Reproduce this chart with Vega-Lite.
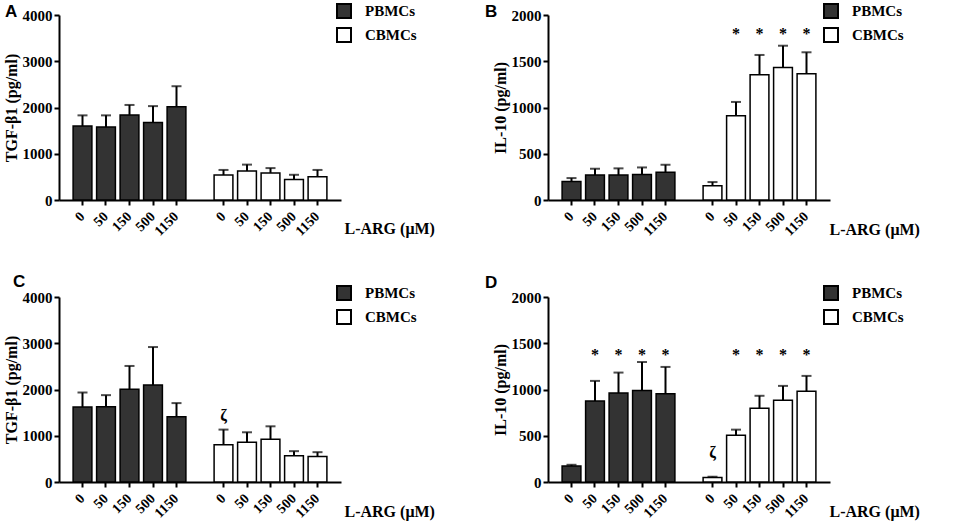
{
  "$schema": "https://vega.github.io/schema/vega-lite/v6.json",
  "padding": {"left": 3, "top": 3, "right": 0, "bottom": 0},
  "background": "white",
  "datasets": {
    "A": [
      {"cells": "PBMCs", "key": "P0", "mean": 1600, "hi": 1830, "mark": ""},
      {"cells": "PBMCs", "key": "P50", "mean": 1580, "hi": 1830, "mark": ""},
      {"cells": "PBMCs", "key": "P150", "mean": 1840, "hi": 2055, "mark": ""},
      {"cells": "PBMCs", "key": "P500", "mean": 1675, "hi": 2030, "mark": ""},
      {"cells": "PBMCs", "key": "P1150", "mean": 2015, "hi": 2460, "mark": ""},
      {"cells": "CBMCs", "key": "C0", "mean": 540, "hi": 650, "mark": ""},
      {"cells": "CBMCs", "key": "C50", "mean": 625, "hi": 765, "mark": ""},
      {"cells": "CBMCs", "key": "C150", "mean": 585, "hi": 690, "mark": ""},
      {"cells": "CBMCs", "key": "C500", "mean": 445, "hi": 545, "mark": ""},
      {"cells": "CBMCs", "key": "C1150", "mean": 505, "hi": 650, "mark": ""}
    ],
    "B": [
      {"cells": "PBMCs", "key": "P0", "mean": 200, "hi": 237, "mark": ""},
      {"cells": "PBMCs", "key": "P50", "mean": 270, "hi": 338, "mark": ""},
      {"cells": "PBMCs", "key": "P150", "mean": 270, "hi": 342, "mark": ""},
      {"cells": "PBMCs", "key": "P500", "mean": 277, "hi": 352, "mark": ""},
      {"cells": "PBMCs", "key": "P1150", "mean": 299, "hi": 381, "mark": ""},
      {"cells": "CBMCs", "key": "C0", "mean": 155, "hi": 194, "mark": ""},
      {"cells": "CBMCs", "key": "C50", "mean": 910, "hi": 1060, "mark": "*"},
      {"cells": "CBMCs", "key": "C150", "mean": 1355, "hi": 1568, "mark": "*"},
      {"cells": "CBMCs", "key": "C500", "mean": 1432, "hi": 1668, "mark": "*"},
      {"cells": "CBMCs", "key": "C1150", "mean": 1365, "hi": 1597, "mark": "*"}
    ],
    "C": [
      {"cells": "PBMCs", "key": "P0", "mean": 1620, "hi": 1935, "mark": ""},
      {"cells": "PBMCs", "key": "P50", "mean": 1627, "hi": 1878, "mark": ""},
      {"cells": "PBMCs", "key": "P150", "mean": 2007, "hi": 2509, "mark": ""},
      {"cells": "PBMCs", "key": "P500", "mean": 2100, "hi": 2918, "mark": ""},
      {"cells": "PBMCs", "key": "P1150", "mean": 1412, "hi": 1706, "mark": ""},
      {"cells": "CBMCs", "key": "C0", "mean": 803, "hi": 1133, "mark": "ζ"},
      {"cells": "CBMCs", "key": "C50", "mean": 860, "hi": 1075, "mark": ""},
      {"cells": "CBMCs", "key": "C150", "mean": 925, "hi": 1204, "mark": ""},
      {"cells": "CBMCs", "key": "C500", "mean": 566, "hi": 667, "mark": ""},
      {"cells": "CBMCs", "key": "C1150", "mean": 552, "hi": 645, "mark": ""}
    ],
    "D": [
      {"cells": "PBMCs", "key": "P0", "mean": 172, "hi": 186, "mark": ""},
      {"cells": "PBMCs", "key": "P50", "mean": 875, "hi": 1093, "mark": "*"},
      {"cells": "PBMCs", "key": "P150", "mean": 961, "hi": 1183, "mark": "*"},
      {"cells": "PBMCs", "key": "P500", "mean": 989, "hi": 1297, "mark": "*"},
      {"cells": "PBMCs", "key": "P1150", "mean": 953, "hi": 1244, "mark": "*"},
      {"cells": "CBMCs", "key": "C0", "mean": 50, "hi": 57, "mark": "ζ"},
      {"cells": "CBMCs", "key": "C50", "mean": 505, "hi": 566, "mark": "*"},
      {"cells": "CBMCs", "key": "C150", "mean": 796, "hi": 932, "mark": "*"},
      {"cells": "CBMCs", "key": "C500", "mean": 885, "hi": 1039, "mark": "*"},
      {"cells": "CBMCs", "key": "C1150", "mean": 982, "hi": 1147, "mark": "*"}
    ]
  },
  "concat": [
    {
      "width": 282, "height": 185,
      "data": {"name": "A"},
      "title": {"text": "A", "anchor": "start", "frame": "group", "dx": -54, "offset": -31, "baseline": "alphabetic", "font": "Liberation Sans", "fontSize": 17, "fontWeight": "bold", "color": "black"},
      "encoding": {
        "x": {"field": "key", "type": "nominal", "sort": null,
          "scale": {"domain": ["P0","P50","P150","P500","P1150","gap","C0","C50","C150","C500","C1150"], "paddingInner": 0.2, "paddingOuter": 0.6},
          "axis": {"title": "L-ARG (μM)", "titleX": 285, "titleY": 33, "titleAlign": "left", "titleBaseline": "alphabetic", "titleAngle": 0,
            "labelExpr": "datum.value == 'gap' ? '' : slice(datum.value, 1)", "labelAngle": -45, "labelAlign": "right", "labelBaseline": "middle",
            "tickOpacity": {"condition": {"test": "datum.value == 'gap'", "value": 0}, "value": 1}}}
      },
      "layer": [
        {"mark": {"type": "bar", "stroke": "black", "strokeWidth": 1.5},
         "encoding": {
           "y": {"field": "mean", "type": "quantitative", "scale": {"domain": [0, 4000], "nice": false}, "axis": {"title": "TGF-β1 (pg/ml)", "values": [0, 1000, 2000, 3000, 4000], "format": "d"}},
           "fill": {"field": "cells", "type": "nominal", "scale": {"domain": ["PBMCs", "CBMCs"], "range": ["#333333", "#ffffff"]},
             "legend": {"orient": "none", "legendX": 277, "legendY": -12}}
         }},
        {"mark": {"type": "rule", "color": "black", "strokeWidth": 2},
         "encoding": {"y": {"field": "mean", "type": "quantitative"}, "y2": {"field": "hi"}}},
        {"mark": {"type": "tick", "color": "black", "size": 10, "thickness": 2},
         "encoding": {"y": {"field": "hi", "type": "quantitative"}}}
      ]
    },
    {
      "width": 282, "height": 185,
      "data": {"name": "B"},
      "title": {"text": "B", "anchor": "start", "frame": "group", "dx": -63, "offset": -31, "baseline": "alphabetic", "font": "Liberation Sans", "fontSize": 17, "fontWeight": "bold", "color": "black"},
      "encoding": {
        "x": {"field": "key", "type": "nominal", "sort": null,
          "scale": {"domain": ["P0","P50","P150","P500","P1150","gap","C0","C50","C150","C500","C1150"], "paddingInner": 0.2, "paddingOuter": 0.6},
          "axis": {"title": "L-ARG (μM)", "titleX": 281, "titleY": 34, "titleAlign": "left", "titleBaseline": "alphabetic", "titleAngle": 0,
            "labelExpr": "datum.value == 'gap' ? '' : slice(datum.value, 1)", "labelAngle": -45, "labelAlign": "right", "labelBaseline": "middle",
            "tickOpacity": {"condition": {"test": "datum.value == 'gap'", "value": 0}, "value": 1}}}
      },
      "layer": [
        {"mark": {"type": "bar", "stroke": "black", "strokeWidth": 1.5},
         "encoding": {
           "y": {"field": "mean", "type": "quantitative", "scale": {"domain": [0, 2000], "nice": false}, "axis": {"title": "IL-10 (pg/ml)", "values": [0, 500, 1000, 1500, 2000], "format": "d"}},
           "fill": {"field": "cells", "type": "nominal", "scale": {"domain": ["PBMCs", "CBMCs"], "range": ["#333333", "#ffffff"]},
             "legend": {"orient": "none", "legendX": 275, "legendY": -12}}
         }},
        {"mark": {"type": "rule", "color": "black", "strokeWidth": 2},
         "encoding": {"y": {"field": "mean", "type": "quantitative"}, "y2": {"field": "hi"}}},
        {"mark": {"type": "tick", "color": "black", "size": 10, "thickness": 2},
         "encoding": {"y": {"field": "hi", "type": "quantitative"}}},
        {"transform": [{"filter": "datum.mark == '*'"}],
         "mark": {"type": "text", "font": "Liberation Serif", "fontWeight": "bold", "fontSize": 16, "baseline": "middle", "color": "black"},
         "encoding": {"y": {"datum": 1800, "type": "quantitative"}, "text": {"field": "mark"}}}
      ]
    },
    {
      "width": 282, "height": 185,
      "data": {"name": "C"},
      "title": {"text": "C", "anchor": "start", "frame": "group", "dx": -46, "offset": -19, "baseline": "alphabetic", "font": "Liberation Sans", "fontSize": 17, "fontWeight": "bold", "color": "black"},
      "encoding": {
        "x": {"field": "key", "type": "nominal", "sort": null,
          "scale": {"domain": ["P0","P50","P150","P500","P1150","gap","C0","C50","C150","C500","C1150"], "paddingInner": 0.2, "paddingOuter": 0.6},
          "axis": {"title": "L-ARG (μM)", "titleX": 285, "titleY": 34, "titleAlign": "left", "titleBaseline": "alphabetic", "titleAngle": 0,
            "labelExpr": "datum.value == 'gap' ? '' : slice(datum.value, 1)", "labelAngle": -45, "labelAlign": "right", "labelBaseline": "middle",
            "tickOpacity": {"condition": {"test": "datum.value == 'gap'", "value": 0}, "value": 1}}}
      },
      "layer": [
        {"mark": {"type": "bar", "stroke": "black", "strokeWidth": 1.5},
         "encoding": {
           "y": {"field": "mean", "type": "quantitative", "scale": {"domain": [0, 4000], "nice": false}, "axis": {"title": "TGF-β1 (pg/ml)", "values": [0, 1000, 2000, 3000, 4000], "format": "d"}},
           "fill": {"field": "cells", "type": "nominal", "scale": {"domain": ["PBMCs", "CBMCs"], "range": ["#333333", "#ffffff"]},
             "legend": {"orient": "none", "legendX": 277, "legendY": -12}}
         }},
        {"mark": {"type": "rule", "color": "black", "strokeWidth": 2},
         "encoding": {"y": {"field": "mean", "type": "quantitative"}, "y2": {"field": "hi"}}},
        {"mark": {"type": "tick", "color": "black", "size": 10, "thickness": 2},
         "encoding": {"y": {"field": "hi", "type": "quantitative"}}},
        {"transform": [{"filter": "datum.mark == 'ζ'"}],
         "mark": {"type": "text", "font": "Liberation Serif", "fontWeight": "bold", "fontSize": 16, "baseline": "middle", "color": "black"},
         "encoding": {"y": {"datum": 1434, "type": "quantitative"}, "text": {"field": "mark"}}}
      ]
    },
    {
      "width": 282, "height": 185,
      "data": {"name": "D"},
      "title": {"text": "D", "anchor": "start", "frame": "group", "dx": -63, "offset": -20, "baseline": "alphabetic", "font": "Liberation Sans", "fontSize": 17, "fontWeight": "bold", "color": "black"},
      "encoding": {
        "x": {"field": "key", "type": "nominal", "sort": null,
          "scale": {"domain": ["P0","P50","P150","P500","P1150","gap","C0","C50","C150","C500","C1150"], "paddingInner": 0.2, "paddingOuter": 0.6},
          "axis": {"title": "L-ARG (μM)", "titleX": 281, "titleY": 34, "titleAlign": "left", "titleBaseline": "alphabetic", "titleAngle": 0,
            "labelExpr": "datum.value == 'gap' ? '' : slice(datum.value, 1)", "labelAngle": -45, "labelAlign": "right", "labelBaseline": "middle",
            "tickOpacity": {"condition": {"test": "datum.value == 'gap'", "value": 0}, "value": 1}}}
      },
      "layer": [
        {"mark": {"type": "bar", "stroke": "black", "strokeWidth": 1.5},
         "encoding": {
           "y": {"field": "mean", "type": "quantitative", "scale": {"domain": [0, 2000], "nice": false}, "axis": {"title": "IL-10 (pg/ml)", "values": [0, 500, 1000, 1500, 2000], "format": "d"}},
           "fill": {"field": "cells", "type": "nominal", "scale": {"domain": ["PBMCs", "CBMCs"], "range": ["#333333", "#ffffff"]},
             "legend": {"orient": "none", "legendX": 275, "legendY": -12}}
         }},
        {"mark": {"type": "rule", "color": "black", "strokeWidth": 2},
         "encoding": {"y": {"field": "mean", "type": "quantitative"}, "y2": {"field": "hi"}}},
        {"mark": {"type": "tick", "color": "black", "size": 10, "thickness": 2},
         "encoding": {"y": {"field": "hi", "type": "quantitative"}}},
        {"transform": [{"filter": "datum.mark == '*'"}],
         "mark": {"type": "text", "font": "Liberation Serif", "fontWeight": "bold", "fontSize": 16, "baseline": "middle", "color": "black"},
         "encoding": {"y": {"datum": 1378, "type": "quantitative"}, "text": {"field": "mark"}}},
        {"transform": [{"filter": "datum.mark == 'ζ'"}],
         "mark": {"type": "text", "font": "Liberation Serif", "fontWeight": "bold", "fontSize": 16, "baseline": "middle", "color": "black"},
         "encoding": {"y": {"datum": 315, "type": "quantitative"}, "text": {"field": "mark"}}}
      ]
    }
  ],
  "columns": 2,
  "spacing": {"row": 97, "column": 207},
  "bounds": "flush",
  "resolve": {"scale": {"fill": "independent", "x": "independent", "y": "independent"}, "legend": {"fill": "independent"}},
  "config": {
    "view": {"stroke": null},
    "axis": {
      "grid": false,
      "domainColor": "black", "domainWidth": 2,
      "tickColor": "black", "tickWidth": 2, "tickSize": 5,
      "labelFont": "Liberation Serif", "labelFontWeight": "bold", "labelFontSize": 14, "labelColor": "black", "labelPadding": 2,
      "titleFont": "Liberation Serif", "titleFontWeight": "bold", "titleFontSize": 16, "titleColor": "black"
    },
    "axisY": {"titlePadding": 3, "labelFontSize": 15},
    "axisX": {"labelPadding": 9},
    "legend": {
      "title": null, "padding": 0,
      "symbolType": "square", "symbolSize": 196, "symbolStrokeColor": "black", "symbolStrokeWidth": 2,
      "labelFont": "Liberation Serif", "labelFontWeight": "bold", "labelFontSize": 15, "labelColor": "black",
      "labelOffset": 13, "rowPadding": 2,
      "encode": {"symbols": {"update": {"fill": {"signal": "datum.value == 'PBMCs' ? 'black' : 'white'"}, "stroke": {"value": "black"}}}}
    }
  }
}
